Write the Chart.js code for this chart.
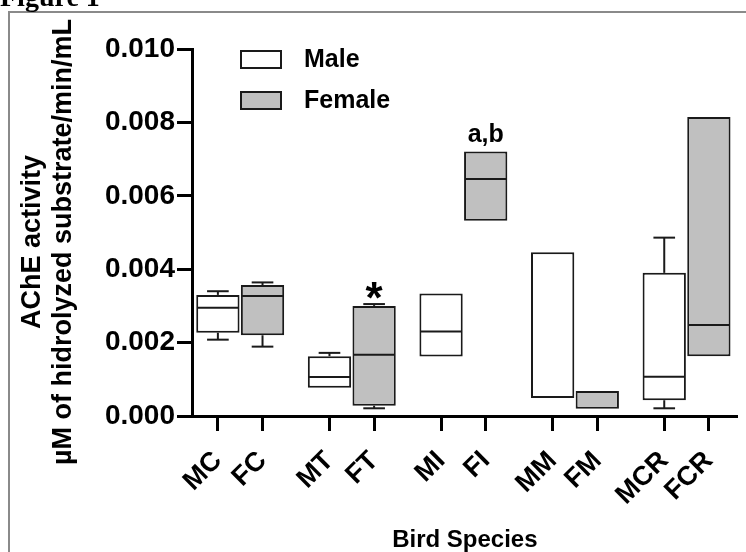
<!DOCTYPE html>
<html>
<head>
<meta charset="utf-8">
<script src="https://cdn.jsdelivr.net/npm/chart.js@4.4.1/dist/chart.umd.min.js"></script>
<style>
  html, body { margin: 0; padding: 0; background: #fff; }
</style>
</head>
<body>
<canvas id="chart" width="746" height="552"></canvas>
<script>
const categories = ['MC', 'FC', 'MT', 'FT', 'MI', 'FI', 'MM', 'FM', 'MCR', 'FCR'];
const groups = ['Male', 'Female'];
// box plot values (µM/min/mL)
const whiskerLow  = [0.00208, 0.00189, 0.00077, 0.00021, 0.00162, 0.00532, 0.00049, 0.00020, 0.00021, 0.00163];
const quartile1   = [0.00227, 0.00220, 0.00077, 0.00028, 0.00162, 0.00532, 0.00049, 0.00020, 0.00043, 0.00163];
const medians     = [0.00295, 0.00327, 0.00106, 0.00167, 0.00230, 0.00646, 0.00049, 0.00020, 0.00107, 0.00248];
const quartile3   = [0.00330, 0.00357, 0.00163, 0.00300, 0.00334, 0.00721, 0.00446, 0.00068, 0.00390, 0.00815];
const whiskerHigh = [0.00340, 0.00364, 0.00172, 0.00305, 0.00334, 0.00721, 0.00446, 0.00068, 0.00486, 0.00815];
const yTicks = [0, 0.002, 0.004, 0.006, 0.008, 0.010];
const marks = { FT: '*', FI: 'a,b' };

const FONT = '"Liberation Sans", Arial, sans-serif';
const INK = '#1a1a1a';
const fills = ['#ffffff', '#c0c0c0'];

// pairs sit close together, with a wider gap between species
const slot = i => 2 * i + Math.floor(i / 2);

function boxData(g) {
    const out = [];
    categories.forEach((c, i) => {
        if (i % 2 === g) out.push({ x: slot(i), y: [quartile1[i], quartile3[i]], i: i });
    });
    return out;
}

const boxWhiskers = {
    id: 'boxWhiskers',
    afterDatasetsDraw(chart) {
        const ctx = chart.ctx;
        const ys = chart.scales.y;
        const line = (x1, y1, x2, y2) => {
            ctx.beginPath();
            ctx.moveTo(x1, y1);
            ctx.lineTo(x2, y2);
            ctx.stroke();
        };
        ctx.save();
        ctx.strokeStyle = INK;
        ctx.lineWidth = 2;
        chart.data.datasets.forEach((ds, d) => {
            chart.getDatasetMeta(d).data.forEach((bar, j) => {
                const i = ds.data[j].i;
                const half = bar.width / 2;
                const yMed = ys.getPixelForValue(medians[i]);
                if (medians[i] > quartile1[i]) line(bar.x - half + 1, yMed, bar.x + half - 1, yMed);
                if (whiskerHigh[i] > quartile3[i]) {
                    const yq = ys.getPixelForValue(quartile3[i]);
                    const yh = ys.getPixelForValue(whiskerHigh[i]);
                    line(bar.x, yq, bar.x, yh);
                    line(bar.x - half / 2, yh, bar.x + half / 2, yh);
                }
                if (whiskerLow[i] < quartile1[i]) {
                    const yq = ys.getPixelForValue(quartile1[i]);
                    const yl = ys.getPixelForValue(whiskerLow[i]);
                    line(bar.x, yq, bar.x, yl);
                    line(bar.x - half / 2, yl, bar.x + half / 2, yl);
                }
            });
        });
        ctx.restore();
    }
};

const extras = {
    id: 'extras',
    afterDraw(chart) {
        const ctx = chart.ctx;
        const area = chart.chartArea;
        const ys = chart.scales.y;
        ctx.save();

        // page frame and cut-off caption
        ctx.strokeStyle = '#8a8a8a';
        ctx.lineWidth = 2;
        ctx.beginPath();
        ctx.moveTo(9, 552);
        ctx.lineTo(9, 12);
        ctx.lineTo(746, 12);
        ctx.stroke();
        ctx.fillStyle = '#000';
        ctx.font = 'bold 28px "Liberation Serif", "Times New Roman", serif';
        ctx.textAlign = 'left';
        ctx.textBaseline = 'alphabetic';
        ctx.fillText('Figure 1', 0, 6);

        // y axis title, two lines
        ctx.save();
        ctx.translate(40, 242);
        ctx.rotate(-Math.PI / 2);
        ctx.font = 'bold 27px ' + FONT;
        ctx.textAlign = 'center';
        ctx.fillText('AChE activity', 0, 0);
        ctx.fillText('µM of hidrolyzed substrate/min/mL', 0, 31);
        ctx.restore();

        // legend inside the plot
        chart.data.datasets.forEach((ds, d) => {
            const bx = area.left + 49;
            const by = area.top + 2 + d * 41;
            ctx.fillStyle = ds.backgroundColor;
            ctx.fillRect(bx, by, 40, 17);
            ctx.strokeStyle = INK;
            ctx.lineWidth = 2;
            ctx.strokeRect(bx, by, 40, 17);
            ctx.fillStyle = '#000';
            ctx.font = 'bold 25px ' + FONT;
            ctx.textAlign = 'left';
            ctx.textBaseline = 'middle';
            ctx.fillText(ds.label, bx + 63, by + 9);
        });

        // significance marks
        chart.data.datasets.forEach((ds, d) => {
            chart.getDatasetMeta(d).data.forEach((bar, j) => {
                const i = ds.data[j].i;
                const txt = marks[categories[i]];
                if (!txt) return;
                ctx.font = (txt === '*' ? 'bold 44px ' : 'bold 25px ') + FONT;
                ctx.textAlign = 'center';
                ctx.textBaseline = 'alphabetic';
                const m = ctx.measureText(txt);
                const top = ys.getPixelForValue(whiskerHigh[i]);
                ctx.fillText(txt, bar.x, top - 5 - m.actualBoundingBoxDescent);
            });
        });
        ctx.restore();
    }
};

const common = {
    borderColor: INK,
    borderWidth: 2,
    borderSkipped: false,
    grouped: false,
    categoryPercentage: 1,
    barPercentage: 0.97
};

new Chart(document.getElementById('chart'), {
    type: 'bar',
    data: {
        datasets: groups.map((g, k) => Object.assign({
            label: g,
            data: boxData(k),
            backgroundColor: fills[k]
        }, common))
    },
    options: {
        responsive: false,
        animation: false,
        layout: { padding: { top: 49, right: 4, left: 0, bottom: 0 } },
        plugins: { legend: { display: false }, tooltip: { enabled: false } },
        scales: {
            x: {
                type: 'linear',
                offset: false,
                min: -1.16,
                max: 23.29,
                afterBuildTicks: s => { s.ticks = categories.map((c, i) => ({ value: slot(i) })); },
                afterFit: s => { s.height = 136; },
                grid: { offset: false, drawOnChartArea: false, drawTicks: true, tickLength: 15, tickWidth: 3, tickColor: '#000' },
                border: { display: true, color: '#000', width: 3 },
                ticks: {
                    autoSkip: false,
                    minRotation: 45,
                    maxRotation: 45,
                    padding: 14,
                    color: '#000',
                    font: { family: FONT, size: 27, weight: 'bold' },
                    callback: (v, idx) => categories[idx]
                },
                title: {
                    display: true,
                    text: 'Bird Species',
                    color: '#000',
                    padding: 0,
                    font: { family: FONT, size: 24, weight: 'bold', lineHeight: 1 }
                }
            },
            y: {
                min: 0,
                max: 0.010,
                afterBuildTicks: s => { s.ticks = yTicks.map(v => ({ value: v })); },
                afterFit: s => { s.width = 192; },
                grid: { drawOnChartArea: false, drawTicks: true, tickLength: 15, tickWidth: 3, tickColor: '#000' },
                border: { display: true, color: '#000', width: 3 },
                ticks: {
                    padding: 2,
                    color: '#000',
                    font: { family: FONT, size: 28, weight: 'bold' },
                    callback: v => v.toFixed(3)
                }
            }
        }
    },
    plugins: [boxWhiskers, extras]
});
</script>
</body>
</html>
